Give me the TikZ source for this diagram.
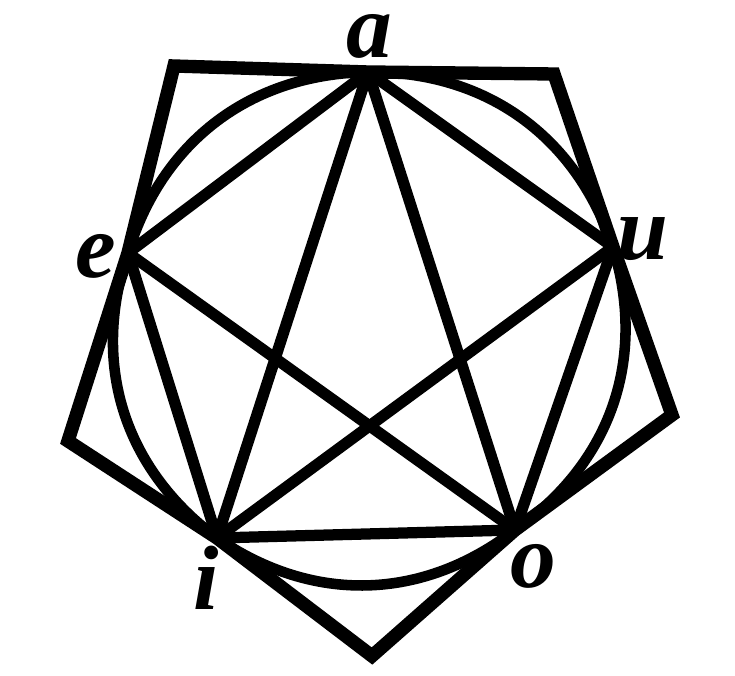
\documentclass[tikz,border=0pt]{standalone}
\usepackage{fontspec}
\setmainfont{Liberation Serif}
\begin{document}
\begin{tikzpicture}[x=0.01cm,y=-0.01cm,
  chord/.style={line width=3.2pt, line cap=round},
  arcline/.style={line width=3pt, line cap=round},
  frame/.style={line width=3.8pt, line join=miter},
  lab/.style={font=\fontsize{26}{26}\selectfont\bfseries\itshape, inner sep=0pt}]
\useasboundingbox (0,0) rectangle (735,676);
% inner points
\coordinate (a) at (368,72);
\coordinate (u) at (613,247);
\coordinate (o) at (515,530);
\coordinate (i) at (217,538);
\coordinate (e) at (128,253);
% outer pentagon corners
\coordinate (p1) at (174,66);
\coordinate (p2) at (554,74);
\coordinate (p3) at (672,415);
\coordinate (p4) at (372,656);
\coordinate (p5) at (68,441);
% outer pentagon
\draw[frame] (p1) -- (a) -- (p2) -- (u) -- (p3) -- (o) -- (p4) -- (i) -- (p5) -- (e) -- cycle;
% arcs of the circle
\draw[arcline] (a) to[bend left=36] (u);
\draw[arcline] (u) to[bend left=36] (o);
\draw[arcline] (o) to[bend left=36] (i);
\draw[arcline] (i) to[bend left=36] (e);
\draw[arcline] (e) to[bend left=36] (a);
% chords
\draw[chord] (a) -- (u);
\draw[chord] (u) -- (o);
\draw[chord] (o) -- (i);
\draw[chord] (i) -- (e);
\draw[chord] (e) -- (a);
% diagonals
\draw[chord] (a) -- (i);
\draw[chord] (a) -- (o);
\draw[chord] (e) -- (o);
\draw[chord] (u) -- (i);
% labels
\node[lab] (la) at (369,36) {a};
\node[lab] (lu) at (643,239) {u};
\node[lab] (lo) at (533,566) {o};
\node[lab] (li) at (206,578) {i};
\node[lab] (le) at (96,256) {e};
\end{tikzpicture}
\end{document}
